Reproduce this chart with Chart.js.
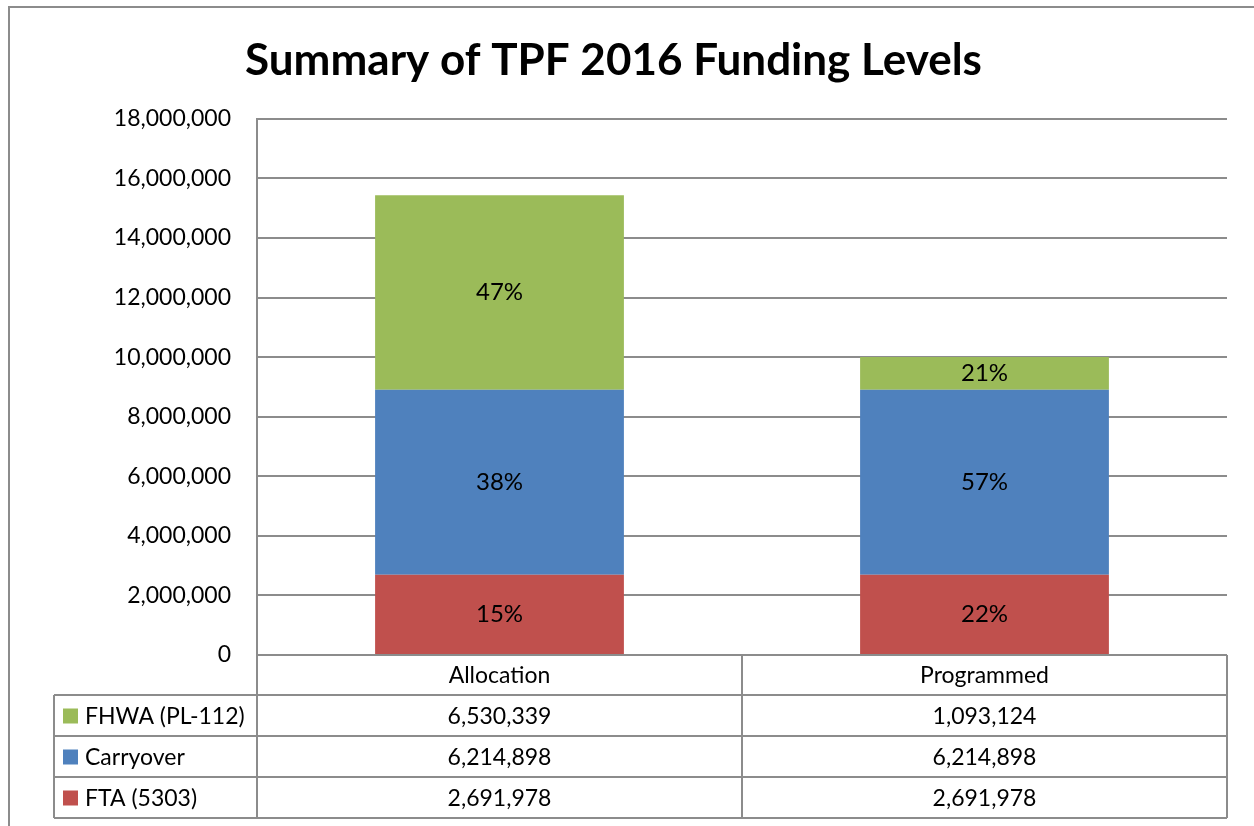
<!DOCTYPE html>
<html>
<head>
<meta charset="utf-8">
<script src="https://cdn.jsdelivr.net/npm/chart.js@4"></script>
<style>
  html, body { margin: 0; padding: 0; background: #fff; }
  #wrap { width: 1254px; height: 826px; }
</style>
</head>
<body>
<div id="wrap"><canvas id="fundingChart" width="1254" height="826"></canvas></div>
<script>
// ----- data -----
const categories = ["Allocation", "Programmed"];
const seriesNames = ["FTA (5303)", "Carryover", "FHWA (PL-112)"];
const ftaValues = [2691978, 2691978];
const carryoverValues = [6214898, 6214898];
const fhwaValues = [6530339, 1093124];
const ftaLabels = ["15%", "22%"];
const carryoverLabels = ["38%", "57%"];
const fhwaLabels = ["47%", "21%"];
const seriesColors = ["#C0504D", "#4F81BD", "#9BBB59"];
const yMax = 18000000;
const yStep = 2000000;

const FONT = "Lato, 'Open Sans', sans-serif";
const LINE = "#8c8c8c";

const fmt = n => n.toLocaleString("en-US");

// outer frame
const framePlugin = {
    id: "frame",
    beforeDraw(chart) {
        const c = chart.ctx;
        c.save();
        c.strokeStyle = LINE;
        c.lineWidth = 2;
        c.beginPath();
        c.moveTo(9, 830);
        c.lineTo(9, 7);
        c.lineTo(1260, 7);
        c.stroke();
        c.restore();
    }
};

// percent labels inside segments
const segLabelPlugin = {
    id: "segLabels",
    afterDatasetsDraw(chart) {
        const c = chart.ctx;
        c.save();
        c.font = "24px " + FONT;
        c.fillStyle = "#000";
        c.textAlign = "center";
        c.textBaseline = "middle";
        chart.data.datasets.forEach((ds, i) => {
            const meta = chart.getDatasetMeta(i);
            meta.data.forEach((bar, j) => {
                const yMid = (bar.y + bar.base) / 2;
                c.fillText(ds.segLabels[j], bar.x, yMid);
            });
        });
        c.restore();
    }
};

// data table under the plot
const tablePlugin = {
    id: "dataTable",
    afterDraw(chart) {
        const c = chart.ctx;
        const area = chart.chartArea;
        const xs = chart.scales.x;
        const left = area.left, right = area.right;
        const mid = (xs.getPixelForValue(0) + xs.getPixelForValue(1)) / 2;
        const legLeft = 54;
        const top = area.bottom;
        const headH = 40, rowH = 41;
        const rows = [2, 1, 0]; // top row first
        const bottom = top + headH + rowH * rows.length;

        c.save();
        c.strokeStyle = LINE;
        c.lineWidth = 2;
        c.beginPath();
        // verticals
        [left, mid, right].forEach(x => { c.moveTo(x, top); c.lineTo(x, bottom); });
        c.moveTo(legLeft, top + headH); c.lineTo(legLeft, bottom);
        // horizontals
        c.moveTo(left, top); c.lineTo(right, top);
        for (let r = 0; r <= rows.length; r++) {
            const y = top + headH + r * rowH;
            c.moveTo(legLeft, y); c.lineTo(right, y);
        }
        c.stroke();

        c.font = "23px " + FONT;
        c.fillStyle = "#000";
        c.textBaseline = "middle";
        c.textAlign = "center";
        const colCenters = [(left + mid) / 2, (mid + right) / 2];
        categories.forEach((cat, j) => c.fillText(cat, colCenters[j], top + headH / 2 + 1));

        rows.forEach((dsIdx, r) => {
            const ds = chart.data.datasets[dsIdx];
            const yc = top + headH + r * rowH + rowH / 2 + 1;
            c.fillStyle = ds.backgroundColor;
            c.fillRect(legLeft + 9, yc - 8, 15, 15);
            c.fillStyle = "#000";
            c.textAlign = "left";
            c.fillText(ds.label, legLeft + 31, yc);
            c.textAlign = "center";
            ds.data.forEach((v, j) => c.fillText(fmt(v), colCenters[j], yc));
        });
        c.restore();
    }
};

const ctx = document.getElementById("fundingChart").getContext("2d");
new Chart(ctx, {
    type: "bar",
    data: {
        labels: categories,
        datasets: [
            { label: seriesNames[0], data: ftaValues, backgroundColor: seriesColors[0], segLabels: ftaLabels },
            { label: seriesNames[1], data: carryoverValues, backgroundColor: seriesColors[1], segLabels: carryoverLabels },
            { label: seriesNames[2], data: fhwaValues, backgroundColor: seriesColors[2], segLabels: fhwaLabels }
        ]
    },
    options: {
        responsive: false,
        animation: false,
        devicePixelRatio: 1,
        layout: { padding: { left: 0, right: 27, top: 0, bottom: 171 } },
        datasets: { bar: { categoryPercentage: 1, barPercentage: 0.513 } },
        plugins: {
            legend: { display: false },
            tooltip: { enabled: false },
            title: {
                display: true,
                text: "Summary of TPF 2016 Funding Levels",
                color: "#000",
                font: { family: FONT, size: 44, weight: "bold" },
                padding: { top: 34, bottom: 32 }
            }
        },
        scales: {
            x: {
                stacked: true,
                display: false
            },
            y: {
                stacked: true,
                min: 0,
                max: yMax,
                afterFit(scale) { scale.width = 257; },
                ticks: {
                    stepSize: yStep,
                    color: "#000",
                    padding: 26,
                    font: { family: FONT, size: 23 },
                    callback: v => fmt(v)
                },
                grid: { color: LINE, lineWidth: 2, drawTicks: false },
                border: { color: LINE, width: 2 }
            }
        }
    },
    plugins: [framePlugin, segLabelPlugin, tablePlugin]
});
</script>
</body>
</html>
